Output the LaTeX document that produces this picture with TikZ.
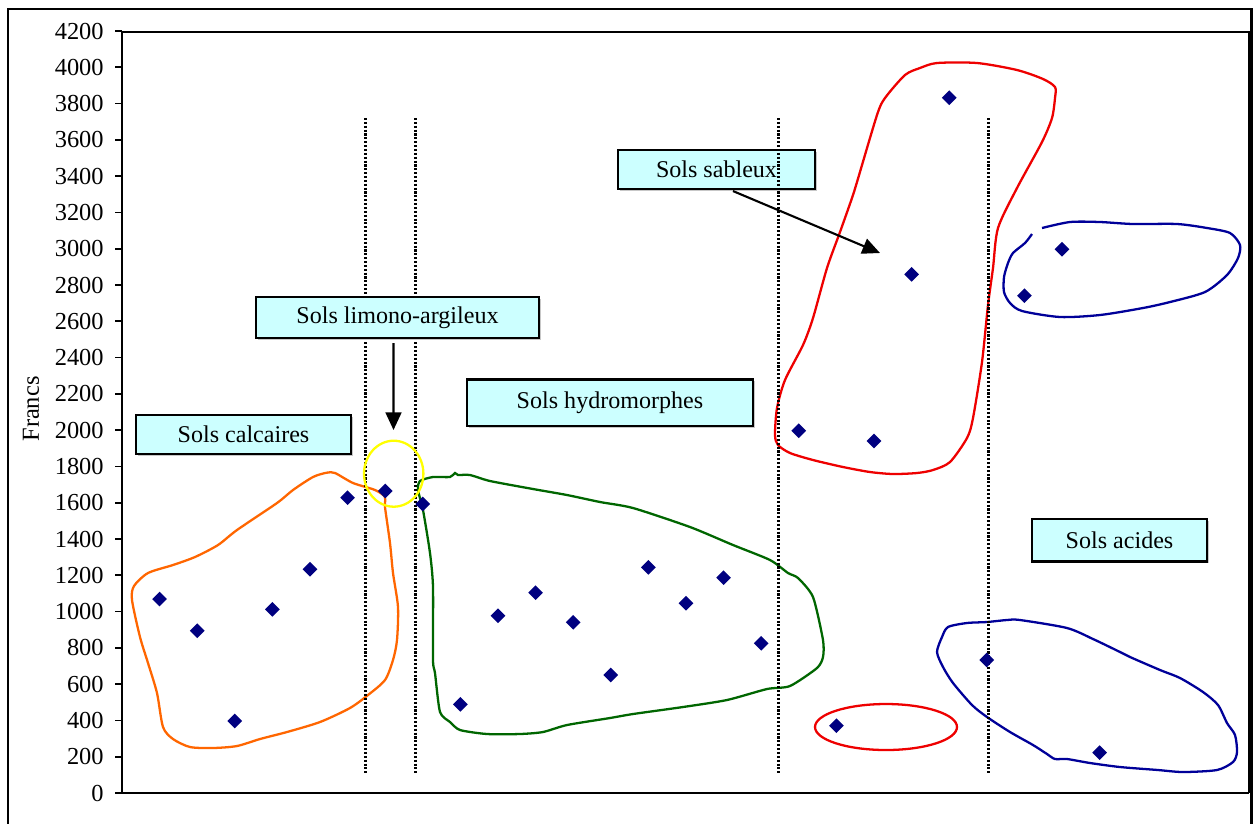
\documentclass[tikz,border=0pt]{standalone}
\usepackage{fontspec}
\setmainfont{Liberation Serif}
\usetikzlibrary{shapes.geometric,arrows.meta,shadows}
\definecolor{boxfill}{HTML}{CCFFFF}
\definecolor{ptnavy}{HTML}{000080}
\definecolor{blorange}{HTML}{FF6600}
\definecolor{blgreen}{HTML}{006600}
\definecolor{blred}{HTML}{EE0000}
\definecolor{blblue}{HTML}{000099}
\definecolor{blyellow}{HTML}{FFFF00}
\tikzset{
  lbl/.style={draw=black, line width=1.2pt, fill=boxfill, inner sep=0pt, text=black,
    font=\fontsize{13.7pt}{16pt}\selectfont,
    drop shadow={shadow xshift=1.1pt, shadow yshift=-1.1pt, fill=black!22, opacity=1}},
  datapt/.style={diamond, fill=ptnavy, inner sep=0pt, minimum width=0.3cm, minimum height=0.3cm},
  blob/.style={line width=1.3pt},
  sepline/.style={line width=1.6pt, dash pattern=on 1.2pt off 1.0pt},
  arr/.style={line width=1.2pt, -{Triangle[length=10pt,width=9pt]}},
  ticklbl/.style={anchor=east, inner sep=0pt, font=\fontsize{13.9pt}{16pt}\selectfont}
}
\begin{document}
\begin{tikzpicture}[x=0.02cm,y=-0.02cm]
\useasboundingbox (0,0) rectangle (1253,823);
\fill[white] (0,0) rectangle (1253,823);
% outer frame
\draw[line width=1.2pt] (8,850) -- (8,9) -- (1251.5,9) -- (1251.5,850);
% plot frame
\draw[line width=1pt] (122,32) -- (1249,32) -- (1249,793);
\draw[line width=1.6pt] (122,32) -- (122,793) -- (1249,793);
\foreach \v in {0,200,...,4200}{
  \draw[line width=1pt] (115,{793-\v*0.18143}) -- (122,{793-\v*0.18143});
  \node[ticklbl] (t\v) at (104,{793-\v*0.18143}) {\v};
}
\node[rotate=90, inner sep=0pt, font=\fontsize{13.9pt}{16pt}\selectfont] (ylabel) at (31,409) {Francs};

% blobs
\draw[blob, blorange] plot[smooth cycle, tension=0.45] coordinates {(326.7,472.7) (335,473) (353,483) (375,490) (385,497) (385,507) (390,543) (393,573) (398,607) (397,640) (393,660) (385,680) (368,695) (350,708) (320,722) (287,732) (260,739) (237,746) (213,748) (190,747) (173,739) (163,727) (157,693) (148,663) (140,637) (132,600) (134,586) (148,573) (173,565) (195,557) (218,545) (237,530) (277,503) (293,490) (313,477)};
\draw[blob, blgreen] plot[smooth cycle, tension=0.4] coordinates {(420,481) (433,477) (450,477) (455,473) (458,475) (470,475) (490,481) (533,489) (567,495) (600,502) (633,508) (690,527) (733,545) (770,560) (788,573) (798,578) (813,597) (823,640) (823,657) (817,668) (790,686) (767,689) (727,700) (683,707) (633,714) (610,718) (567,725) (543,732) (520,734) (487,734) (460,730) (450,722) (440,712) (435,673) (433,660) (433,587) (430,553) (423,510) (418,490)};
\draw[blob, blred] plot[smooth cycle, tension=0.45] coordinates {(937,63) (977,63) (1017,70) (1043,79) (1055,87) (1055,98) (1052,118) (1042,142) (1017,188) (998,228) (993,268) (988,305) (982,362) (973,418) (967,438) (950,462) (933,470) (917,473) (893,474) (870,472) (843,467) (813,460) (790,453) (778,445) (775,435) (777,408) (785,380) (803,345) (813,318) (827,268) (840,232) (852,198) (857,182) (877,115) (885,98) (905,75) (920,68)};
\draw[blob, blblue] plot[smooth, tension=0.45] coordinates {(1042,228) (1070,222) (1100,222) (1133,224) (1177,224) (1207,228) (1230,233) (1240,245) (1238,258) (1227,275) (1205,292) (1170,302) (1143,308) (1100,315) (1060,317) (1022,311) (1010,303) (1004,292) (1004,277) (1008,263) (1013,253) (1025,243) (1032,234)};
\draw[blob, blblue] plot[smooth cycle, tension=0.45] coordinates {(948,627) (967,623) (987,622) (1007,620) (1020,620) (1067,628) (1093,639) (1120,652) (1130,657) (1160,670) (1180,678) (1203,692) (1218,705) (1227,723) (1235,735) (1237,752) (1233,762) (1217,770) (1183,772) (1158,770) (1120,767) (1090,763) (1067,759) (1055,759) (1047,754) (1033,745) (1010,732) (987,717) (972,705) (953,683) (943,667) (937,652) (942,637)};
\draw[blob, blred] (886,727) ellipse [x radius=1.42cm, y radius=0.46cm];

% label behind the dotted line
\node[lbl, minimum width=3.94cm, minimum height=0.78cm] (sab) at (716.5,169.5) {Sols sableux};

% dotted separators
\draw[sepline] (365.7,118) -- (365.7,773);
\draw[sepline] (415.7,118) -- (415.7,773);
\draw[sepline] (778.3,118) -- (778.3,773);
\draw[sepline] (988.5,118) -- (988.5,773);

% labels
\node[lbl, minimum width=4.30cm, minimum height=0.78cm] (calc) at (243.5,434.5) {Sols calcaires};
\node[lbl, minimum width=5.66cm, minimum height=0.82cm] (lim) at (397.5,317.5) {Sols limono-argileux};
\node[lbl, minimum width=5.72cm, minimum height=0.93cm] (hyd) at (610,402.75) {Sols hydromorphes};
\node[lbl, minimum width=3.50cm, minimum height=0.85cm] (aci) at (1119.5,540.25) {Sols acides};

% arrows
\coordinate (limtip) at (393.5,430);
\coordinate (sabtip) at (880,253);
\draw[arr] ([xshift=-0.08cm, yshift=-0.08cm]lim.south) -- (limtip);
\draw[arr] ([xshift=0.33cm, yshift=-0.02cm]sab.south) -- (sabtip);

% yellow circle
\draw[blob, blyellow] (393.7,473.7) ellipse [x radius=0.594cm, y radius=0.66cm];

% data points
\foreach \px/\py [count=\i] in {159.6/599, 197.2/630.7, 234.8/721, 272.4/609.3, 310/569.3, 347.6/497.7, 385.2/491, 422.8/504, 460.4/704.3, 498/615.7, 535.6/592.7, 573.2/622.3, 610.8/675, 648.4/567.3, 686/603.3, 723.6/577.7, 761.2/643.3, 798.8/430.7, 836.4/725.7, 874/441, 911.6/274.3, 949.2/97.7, 986.8/660, 1024.4/295.7, 1062/249.3, 1099.6/752.7}
  \node[datapt] (p\i) at (\px,\py) {};
\end{tikzpicture}
\end{document}
